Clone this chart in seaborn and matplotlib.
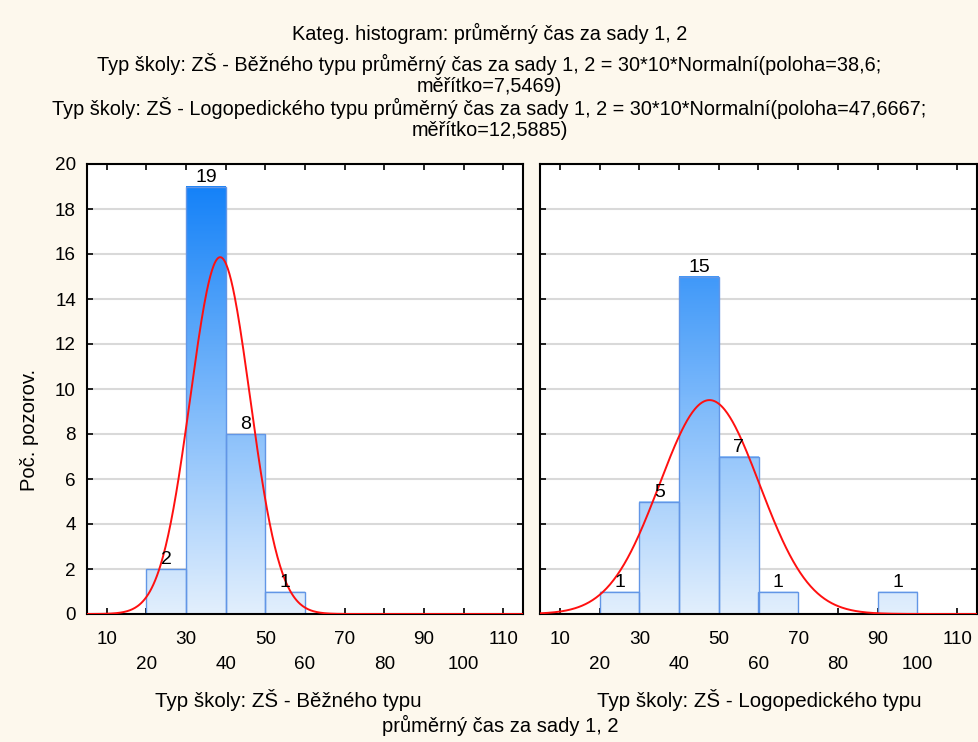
import numpy as np
import matplotlib
matplotlib.use("Agg")
import matplotlib.pyplot as plt
from matplotlib.colors import LinearSegmentedColormap
import seaborn as sns

# histogram data (bin edges + counts per group)
edges_bezne = [20, 30, 40, 50, 60]
counts_bezne = [2, 19, 8, 1]
edges_logo = [20, 30, 40, 50, 60, 70, 80, 90, 100]
counts_logo = [1, 5, 15, 7, 1, 0, 0, 1]

# fitted normal parameters (from the chart title)
loc_bezne, scale_bezne = 38.6, 7.5469
loc_logo, scale_logo = 47.6667, 12.5885
n_obs = 30
bin_width = 10

x_ticks_upper = [10, 30, 50, 70, 90, 110]
x_ticks_lower = [20, 40, 60, 80, 100]
y_ticks = [0, 2, 4, 6, 8, 10, 12, 14, 16, 18, 20]

title_lines = [
    "Kateg. histogram: průměrný čas za sady 1, 2",
    "Typ školy: ZŠ - Běžného typu průměrný čas za sady 1, 2 = 30*10*Normalní(poloha=38,6;",
    "měřítko=7,5469)",
    "Typ školy: ZŠ - Logopedického typu průměrný čas za sady 1, 2 = 30*10*Normalní(poloha=47,6667;",
    "měřítko=12,5885)",
]
panel_labels = ["Typ školy: ZŠ - Běžného typu", "Typ školy: ZŠ - Logopedického typu"]

sns.set_style("white")
plt.rcParams["font.family"] = ["Liberation Sans", "DejaVu Sans"]
plt.rcParams["text.color"] = "black"
plt.rcParams["xtick.color"] = "black"
plt.rcParams["ytick.color"] = "black"
plt.rcParams["axes.labelcolor"] = "black"

bg = "#fdf8ed"
bar_cmap = LinearSegmentedColormap.from_list("bars", ["#e2effd", "#1582f8"])

fig = plt.figure(figsize=(9.79, 7.42), dpi=100, facecolor=bg)
ax1 = fig.add_axes([87 / 979, 1 - 614 / 742, 436 / 979, 450 / 742])
ax2 = fig.add_axes([540 / 979, 1 - 614 / 742, 437 / 979, 450 / 742])


def normal_curve(xs, loc, scale):
    return n_obs * bin_width * np.exp(-0.5 * ((xs - loc) / scale) ** 2) / (scale * np.sqrt(2 * np.pi))


def draw_panel(ax, edges, counts, loc, scale, show_y):
    centers = [(a + b) / 2 for a, b in zip(edges[:-1], edges[1:])]
    sns.histplot(x=centers, weights=counts, bins=edges, ax=ax, stat="count",
                 edgecolor="#6296e6", linewidth=1.0, legend=False)
    for p in list(ax.patches):
        h = p.get_height()
        x0, w = p.get_x(), p.get_width()
        if h <= 0:
            p.set_visible(False)
            continue
        # vertical gradient fill, darker with height
        grad = np.linspace(0, h, 200).reshape(-1, 1)
        ax.imshow(grad, cmap=bar_cmap, vmin=0, vmax=19, origin="lower",
                  extent=[x0, x0 + w, 0, h], aspect="auto", zorder=1,
                  interpolation="bilinear")
        p.set_facecolor("none")
        p.set_zorder(1.5)
        ax.annotate(str(int(h)), (x0 + w / 2, h), xytext=(0, 0.5),
                    textcoords="offset points", ha="center", va="bottom",
                    fontsize=14, color="black", zorder=4)

    xs = np.linspace(5, 115, 500)
    sns.lineplot(x=xs, y=normal_curve(xs, loc, scale), ax=ax, color="#ff1010",
                 linewidth=1.4, zorder=3)

    ax.set_xlim(5, 115)
    ax.set_ylim(0, 20)
    ax.set_facecolor("white")
    ax.set_xticks(x_ticks_upper)
    ax.set_xticklabels([str(t) for t in x_ticks_upper])
    ax.set_xticks(x_ticks_lower, minor=True)
    ax.set_xticklabels([str(t) for t in x_ticks_lower], minor=True)
    ax.set_yticks(y_ticks)
    ax.yaxis.grid(True, color="#d9d9d9", linewidth=1.5)
    ax.set_axisbelow(True)
    ax.set_xlabel("")
    ax.set_ylabel("")
    ax.tick_params(axis="both", which="both", direction="in", length=4, width=1.2,
                   color="black", labelcolor="black",
                   top=True, right=True, bottom=True, left=True)
    ax.tick_params(axis="x", which="major", labelsize=13.6, pad=12)
    ax.tick_params(axis="x", which="minor", labelsize=13.6, pad=30)
    ax.tick_params(axis="y", labelsize=13.6, pad=8, labelleft=show_y)
    for s in ax.spines.values():
        s.set_visible(True)
        s.set_color("black")
        s.set_linewidth(1.5)


draw_panel(ax1, edges_bezne, counts_bezne, loc_bezne, scale_bezne, True)
draw_panel(ax2, edges_logo, counts_logo, loc_logo, scale_logo, False)

# titles
title_y = [33, 64, 86, 108, 130]
for line, y in zip(title_lines, title_y):
    fig.text(0.5, 1 - y / 742, line, ha="center", va="center", fontsize=14.3, color="black")

fig.text(30 / 979, 1 - 430 / 742, "Poč. pozorov.", rotation=90, ha="center", va="center",
         fontsize=14.5, color="black")
fig.text(288 / 979, 1 - 700 / 742, panel_labels[0], ha="center", va="center", fontsize=14.8, color="black")
fig.text(759 / 979, 1 - 700 / 742, panel_labels[1], ha="center", va="center", fontsize=14.8, color="black")
fig.text(500 / 979, 1 - 725 / 742, "průměrný čas za sady 1, 2", ha="center", va="center",
         fontsize=14.5, color="black")

fig.savefig("out.png", dpi=100, facecolor=bg)
